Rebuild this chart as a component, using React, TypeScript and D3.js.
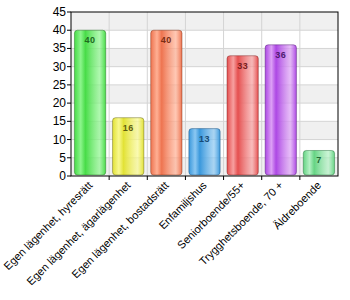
import React from "react";
import * as d3 from "d3";

const categories = [
  "Egen lägenhet, hyresrätt",
  "Egen lägenhet, ägarlägenhet",
  "Egen lägenhet, bostadsrätt",
  "Enfamiljshus",
  "Seniorboende/55+",
  "Trygghetsboende, 70 +",
  "Äldreboende",
];
const values = [40, 16, 40, 13, 33, 36, 7];
const yTicks = [0, 5, 10, 15, 20, 25, 30, 35, 40, 45];
const barColors = ["#48dc48", "#e2e236", "#ee7450", "#3a98dc", "#e55050", "#ad48e4", "#66d484"];
const darkColors = ["#1e6a1e", "#5e5e10", "#7a2e14", "#174a75", "#7a1c1c", "#4e1a70", "#1f6a35"];
const lightColors = ["#8cf58c", "#f8f890", "#ffb094", "#8cc8f2", "#f7a0a0", "#dca0f5", "#b4f0c4"];

export default function App() {
  const W = 350, H = 300;
  const left = 71, right = 338, top = 12, bottom = 176;
  const x = d3.scaleBand().domain(categories).range([left, right]).paddingInner(0.18).paddingOuter(0.09);
  const xb = d3.scaleBand().domain(categories).range([left, right]);
  const y = d3.scaleLinear().domain([0, 45]).range([bottom, top]);
  const font = "Arial, 'Liberation Sans', sans-serif";
  const bands = d3.range(0, 45, 5);
  return (
    <svg width={W} height={H} style={{ position: "absolute", left: 0, top: 0, background: "#fff" }}>
      <defs>
        {barColors.map((c, i) => (
          <linearGradient key={i} id={`g${i}`} x1="0" x2="1" y1="0" y2="0">
            <stop offset="0" stopColor={c} />
            <stop offset="0.2" stopColor={lightColors[i]} />
            <stop offset="0.35" stopColor={c} />
            <stop offset="0.8" stopColor={lightColors[i]} stopOpacity={0.7} />
            <stop offset="1" stopColor={c} />
          </linearGradient>
        ))}
      </defs>
      {bands.map((b) => (
        <rect key={b} x={left} width={right - left} y={y(b + 5)} height={y(b) - y(b + 5)}
          fill={(b / 5) % 2 === 0 ? "#f0f0f0" : "#ffffff"} />
      ))}
      {yTicks.slice(1, -1).map((t) => (
        <line key={t} x1={left} x2={right} y1={y(t)} y2={y(t)} stroke="#d4d4d4" />
      ))}
      {categories.slice(1).map((c) => (
        <line key={c} x1={xb(c)} x2={xb(c)} y1={top} y2={bottom} stroke="#d4d4d4" />
      ))}
      {categories.map((c, i) => {
        const bx = x(c)!, bw = x.bandwidth();
        const yt = y(values[i]);
        return (
          <g key={c}>
            <rect x={bx} y={yt} width={bw} height={bottom - yt - 1} rx={3} ry={3}
              fill={`url(#g${i})`} stroke={darkColors[i]} strokeOpacity={0.45} strokeWidth={1} />
            <text x={bx + bw / 2} y={yt + 13} textAnchor="middle" fontSize={9} fontWeight="bold"
              letterSpacing={0.5} fontFamily={font} fill={darkColors[i]}>{values[i]}</text>
          </g>
        );
      })}
      <rect x={left} y={top} width={right - left} height={bottom - top} fill="none" stroke="#000" strokeWidth={1} />
      {yTicks.map((t) => (
        <g key={t}>
          <line x1={left - 4} x2={left} y1={y(t)} y2={y(t)} stroke="#000" />
          <text x={left - 5} y={y(t) + 4} textAnchor="end" fontSize={12} fontFamily={font} fill="#000">{t}</text>
        </g>
      ))}
      {categories.slice(1).map((c) => (
        <line key={c} x1={xb(c)} x2={xb(c)} y1={bottom} y2={bottom + 4} stroke="#000" />
      ))}
      {categories.map((c) => {
        const cx = xb(c)! + xb.bandwidth() / 2 + 3;
        const cy = bottom + 10;
        return (
          <text key={c} x={cx} y={cy} textAnchor="end" fontSize={11} fontFamily={font} fill="#000"
            transform={`rotate(-45, ${cx}, ${cy})`}>{c}</text>
        );
      })}
    </svg>
  );
}
